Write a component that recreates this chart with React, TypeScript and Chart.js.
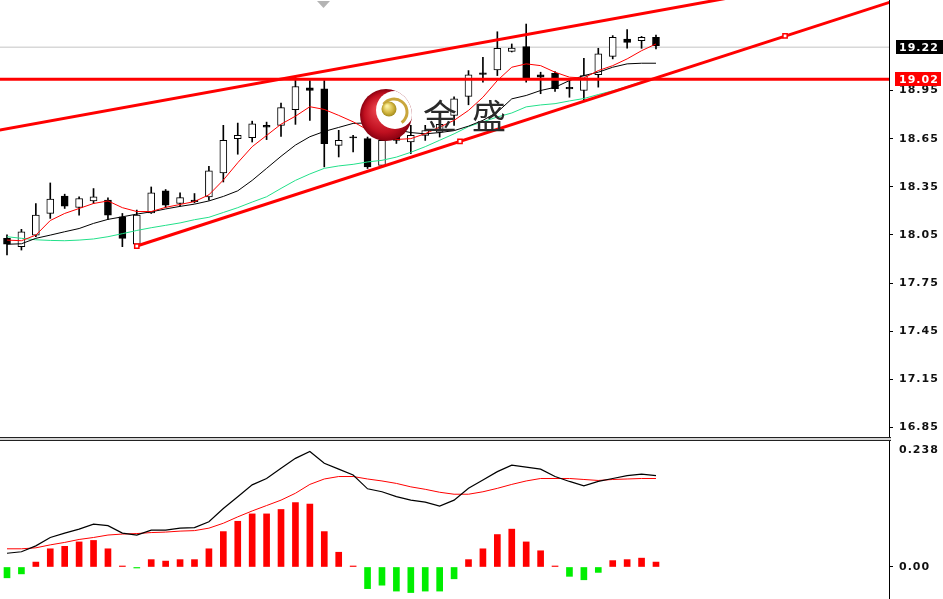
import React, { useEffect, useRef } from 'react';
import { Chart, registerables } from 'chart.js';

Chart.register(...registerables);

// ---- price candles (index 0..45) ----
const openPrices = [18.029, 17.977, 18.049, 18.184, 18.292, 18.221, 18.262, 18.267, 18.163, 17.992, 18.188, 18.325, 18.246, 18.258, 18.287, 18.436, 18.650, 18.656, 18.733, 18.733, 18.830, 18.967, 18.960, 18.608, 18.655, 18.650, 18.484, 18.691, 18.629, 18.670, 18.690, 18.795, 18.913, 19.060, 19.079, 19.194, 19.223, 19.047, 19.057, 18.970, 18.950, 19.048, 19.163, 19.271, 19.260, 19.281];
const highPrices = [18.050, 18.085, 18.246, 18.374, 18.304, 18.287, 18.339, 18.281, 18.184, 18.205, 18.349, 18.333, 18.312, 18.308, 18.478, 18.733, 18.747, 18.759, 18.753, 18.871, 19.037, 19.012, 19.012, 18.702, 18.670, 18.660, 18.670, 18.720, 18.733, 18.733, 18.780, 18.910, 19.074, 19.157, 19.316, 19.240, 19.364, 19.064, 19.068, 19.026, 19.150, 19.213, 19.292, 19.329, 19.287, 19.296];
const lowPrices = [17.925, 17.956, 18.039, 18.153, 18.215, 18.174, 18.246, 18.147, 17.977, 17.967, 18.184, 18.221, 18.230, 18.250, 18.267, 18.380, 18.553, 18.629, 18.644, 18.664, 18.739, 18.764, 18.474, 18.536, 18.567, 18.464, 18.478, 18.620, 18.557, 18.639, 18.660, 18.733, 18.861, 19.002, 19.043, 19.190, 19.002, 18.930, 18.944, 18.908, 18.882, 18.971, 19.147, 19.213, 19.213, 19.209];
const closePrices = [17.993, 18.070, 18.174, 18.273, 18.230, 18.277, 18.287, 18.174, 18.029, 18.174, 18.312, 18.236, 18.283, 18.267, 18.449, 18.639, 18.670, 18.743, 18.722, 18.843, 18.975, 18.950, 18.619, 18.639, 18.660, 18.474, 18.639, 18.639, 18.670, 18.701, 18.740, 18.898, 19.048, 19.050, 19.213, 19.215, 19.023, 19.033, 18.961, 18.960, 19.043, 19.178, 19.281, 19.250, 19.281, 19.230];

// ---- moving averages ----
const maRed = [18.018, 18.014, 18.049, 18.140, 18.184, 18.215, 18.246, 18.262, 18.220, 18.196, 18.196, 18.222, 18.240, 18.258, 18.300, 18.392, 18.500, 18.600, 18.670, 18.740, 18.790, 18.849, 18.832, 18.795, 18.755, 18.705, 18.670, 18.645, 18.650, 18.681, 18.722, 18.764, 18.826, 18.908, 19.012, 19.095, 19.116, 19.105, 19.064, 19.033, 19.028, 19.074, 19.105, 19.147, 19.198, 19.240];
const maBlack = [17.992, 17.995, 18.029, 18.049, 18.070, 18.090, 18.122, 18.147, 18.163, 18.180, 18.194, 18.212, 18.228, 18.242, 18.262, 18.290, 18.325, 18.390, 18.465, 18.540, 18.610, 18.662, 18.695, 18.720, 18.745, 18.748, 18.728, 18.705, 18.688, 18.680, 18.688, 18.700, 18.728, 18.764, 18.815, 18.898, 18.919, 18.950, 18.970, 19.012, 19.043, 19.064, 19.095, 19.116, 19.120, 19.120];
const maGreen = [18.039, 18.029, 18.020, 18.016, 18.014, 18.018, 18.025, 18.039, 18.058, 18.078, 18.095, 18.110, 18.125, 18.145, 18.160, 18.190, 18.220, 18.255, 18.288, 18.340, 18.390, 18.430, 18.465, 18.480, 18.490, 18.505, 18.515, 18.535, 18.565, 18.600, 18.640, 18.680, 18.725, 18.755, 18.785, 18.810, 18.848, 18.860, 18.868, 18.885, 18.900, 18.925, 18.948, 18.975, 19.005, 19.025];

// ---- MACD panel ----
const macdHist = [-0.022, -0.014, 0.010, 0.037, 0.042, 0.051, 0.054, 0.037, 0.002, -0.002, 0.015, 0.012, 0.015, 0.015, 0.037, 0.072, 0.093, 0.108, 0.108, 0.117, 0.131, 0.128, 0.072, 0.030, 0.002, -0.044, -0.037, -0.049, -0.052, -0.049, -0.049, -0.024, 0.015, 0.037, 0.066, 0.077, 0.051, 0.033, 0.002, -0.019, -0.026, -0.011, 0.013, 0.015, 0.018, 0.010];
const macdDif = [0.028, 0.031, 0.043, 0.060, 0.069, 0.077, 0.087, 0.084, 0.069, 0.065, 0.075, 0.075, 0.079, 0.080, 0.092, 0.119, 0.143, 0.167, 0.180, 0.201, 0.221, 0.235, 0.211, 0.199, 0.187, 0.159, 0.153, 0.143, 0.136, 0.132, 0.124, 0.136, 0.160, 0.177, 0.194, 0.207, 0.203, 0.199, 0.184, 0.174, 0.165, 0.174, 0.180, 0.186, 0.189, 0.186];
const macdDea = [0.037, 0.037, 0.039, 0.045, 0.050, 0.056, 0.060, 0.065, 0.067, 0.068, 0.070, 0.071, 0.073, 0.074, 0.079, 0.089, 0.102, 0.114, 0.125, 0.136, 0.150, 0.168, 0.179, 0.184, 0.184, 0.179, 0.175, 0.170, 0.163, 0.158, 0.152, 0.148, 0.148, 0.153, 0.160, 0.168, 0.175, 0.180, 0.180, 0.180, 0.178, 0.176, 0.178, 0.179, 0.180, 0.180];

// ---- axis ticks ----
const priceTicks = [16.85, 17.15, 17.45, 17.75, 18.05, 18.35, 18.65, 18.95];
const macdTicks = [0, 0.238];
const macdTickLabels = ['0.00', '0.238'];

// ---- drawn objects (bar index, price) ----
const bidPrice = 19.22;
const levelPrice = 19.02;
const upperChannel = [{ x: -1, y: 18.6956 }, { x: 56, y: 19.624 }];
const lowerChannel = [{ x: 9, y: 17.981 }, { x: 62, y: 19.523 }];
const channelAnchors = [{ x: 9, y: 17.981 }, { x: 31.41, y: 18.633 }, { x: 53.95, y: 19.29 }];

// ---- axis ranges ----
const X_MIN = -0.4854;
const X_MAX = 61.157;
const PRICE_MIN = 16.7911;
const PRICE_MAX = 19.5139;
const MACD_MIN = -0.0651;
const MACD_MAX = 0.2644;

const TICK_FONT = { family: 'DejaVu Sans', size: 11, weight: 'bold' as const };

function drawLogo(ctx: CanvasRenderingContext2D) {
  ctx.save();
  const cx = 386, cy = 115, r = 26;
  ctx.beginPath();
  ctx.arc(cx, cy, r, 0, Math.PI * 2);
  const g = ctx.createRadialGradient(cx - 8, cy - 6, 3, cx, cy, r);
  g.addColorStop(0, '#e8404a');
  g.addColorStop(0.7, '#c01020');
  g.addColorStop(1, '#8a0010');
  ctx.fillStyle = g;
  ctx.fill();
  ctx.save();
  ctx.beginPath();
  ctx.arc(cx, cy, r, 0, Math.PI * 2);
  ctx.clip();
  ctx.beginPath();
  ctx.arc(cx + 9, cy - 5, 19, 0, Math.PI * 2);
  ctx.fillStyle = '#ffffff';
  ctx.fill();
  ctx.restore();
  ctx.beginPath();
  ctx.arc(cx + 8, cy - 3, 13, -2.5, 0.95);
  ctx.strokeStyle = '#c9a63c';
  ctx.lineWidth = 3;
  ctx.stroke();
  const gb = ctx.createRadialGradient(cx + 1, cy - 9, 1, cx + 3, cy - 6, 8);
  gb.addColorStop(0, '#fbf0a0');
  gb.addColorStop(0.6, '#d2b640');
  gb.addColorStop(1, '#9c8418');
  ctx.beginPath();
  ctx.arc(cx + 3, cy - 6, 7.5, 0, Math.PI * 2);
  ctx.fillStyle = gb;
  ctx.fill();
  (ctx as any).letterSpacing = '0px';
  ctx.font = '34px "Noto Sans CJK SC"';
  ctx.fillStyle = '#2a2a2a';
  ctx.textAlign = 'center';
  ctx.textBaseline = 'middle';
  ctx.fillText('金', 440, 116);
  ctx.fillText('盛', 489, 116);
  ctx.restore();
}

const spacingPlugin = {
  id: 'spacing',
  beforeDraw(chart: any) { chart.ctx.letterSpacing = '1px'; },
  afterDraw(chart: any) { chart.ctx.letterSpacing = '0px'; },
};

const mainOverlay = {
  id: 'mainOverlay',
  afterDatasetsDraw(chart: any) {
    drawLogo(chart.ctx);
  },
  afterDraw(chart: any) {
    const ctx: CanvasRenderingContext2D = chart.ctx;
    const y = chart.scales.y;
    const right = chart.chartArea.right;
    ctx.save();
    (ctx as any).letterSpacing = '1px';
    ctx.font = 'bold 11px "DejaVu Sans"';
    ctx.textAlign = 'left';
    ctx.textBaseline = 'middle';
    const yb = y.getPixelForValue(bidPrice);
    ctx.fillStyle = '#000';
    ctx.fillRect(right + 7, Math.round(yb) - 7, 943 - right - 7, 14);
    ctx.fillStyle = '#fff';
    ctx.fillText(bidPrice.toFixed(2), right + 10, yb + 0.5);
    const yl = y.getPixelForValue(levelPrice);
    ctx.fillStyle = '#ff0000';
    ctx.fillRect(right + 6, Math.round(yl) - 7, 943 - right - 8, 14);
    ctx.fillStyle = '#fff';
    ctx.fillText(levelPrice.toFixed(2), right + 10, yl + 0.5);
    (ctx as any).letterSpacing = '0px';
    ctx.beginPath();
    ctx.moveTo(317, 1);
    ctx.lineTo(330, 1);
    ctx.lineTo(323.5, 8);
    ctx.closePath();
    ctx.fillStyle = '#b4b4b4';
    ctx.fill();
    ctx.restore();
  },
};

const macdOverlay = {
  id: 'macdOverlay',
  afterDraw(chart: any) {
    const ctx: CanvasRenderingContext2D = chart.ctx;
    const right = chart.chartArea.right;
    ctx.save();
    ctx.fillStyle = '#222';
    ctx.fillRect(0, 0, right + 2, 1);
    ctx.fillStyle = '#d4d4d4';
    ctx.fillRect(0, 1, right + 2, 2);
    ctx.fillStyle = '#222';
    ctx.fillRect(0, 3, right + 2, 1);
    ctx.restore();
  },
};

function fitRight(s: any) {
  s.width = 54;
  s.paddingTop = 0;
  s.paddingBottom = 0;
}

export default function App() {
  const mainRef = useRef<HTMLCanvasElement>(null);
  const macdRef = useRef<HTMLCanvasElement>(null);

  useEffect(() => {
    document.body.style.margin = '0';
    const idx = openPrices.map((_, i) => i);
    const isWhite = (i: number) => closePrices[i] - openPrices[i] >= 0.012;

    const lineDs = (data: any[], color: string, width: number, order: number) => ({
      type: 'line' as const,
      data,
      borderColor: color,
      borderWidth: width,
      pointRadius: 0,
      tension: 0,
      clip: 0,
      order,
    });

    const main = new Chart(mainRef.current as HTMLCanvasElement, {
      type: 'bar',
      data: {
        datasets: [
          {
            type: 'bar',
            data: idx.map((i) => ({ x: i, y: [lowPrices[i], highPrices[i]] })),
            backgroundColor: '#000',
            borderWidth: 0,
            barThickness: 1,
            grouped: false,
            order: 10,
          } as any,
          {
            type: 'bar',
            data: idx.map((i) => ({ x: i, y: [openPrices[i], closePrices[i]] })),
            backgroundColor: idx.map((i) => (isWhite(i) ? '#ffffff' : '#000000')),
            borderColor: '#000',
            borderWidth: 1,
            borderSkipped: false,
            barThickness: 7,
            minBarLength: 1,
            grouped: false,
            order: 9,
          } as any,
          lineDs([{ x: -1, y: bidPrice }, { x: 70, y: bidPrice }], '#c4c4c4', 1, 12),
          lineDs(idx.map((i) => ({ x: i, y: maGreen[i] })), '#22e08a', 1, 6),
          lineDs(idx.map((i) => ({ x: i, y: maBlack[i] })), '#000000', 1, 5),
          lineDs(idx.map((i) => ({ x: i, y: maRed[i] })), '#ff0000', 1, 4),
          lineDs([{ x: -1, y: levelPrice }, { x: 70, y: levelPrice }], '#ff0000', 3, 2),
          lineDs(upperChannel, '#ff0000', 3, 2),
          lineDs(lowerChannel, '#ff0000', 3, 2),
          {
            type: 'line',
            data: channelAnchors,
            showLine: false,
            pointStyle: 'rect',
            pointRadius: 3,
            pointBorderColor: '#ff0000',
            pointBackgroundColor: '#ffffff',
            pointBorderWidth: 1.5,
            clip: 0,
            order: 1,
          } as any,
        ],
      },
      options: {
        responsive: false,
        animation: false,
        events: [],
        layout: { padding: 0, autoPadding: false },
        plugins: { legend: { display: false }, tooltip: { enabled: false } },
        scales: {
          x: { type: 'linear', min: X_MIN, max: X_MAX, display: false, offset: false },
          y: {
            type: 'linear',
            position: 'right',
            min: PRICE_MIN,
            max: PRICE_MAX,
            afterFit: fitRight,
            afterBuildTicks: (s: any) => {
              s.ticks = priceTicks.map((v) => ({ value: v }));
            },
            ticks: {
              callback: (v: any) => Number(v).toFixed(2),
              font: TICK_FONT,
              color: '#111',
              padding: 6,
            },
            grid: { drawOnChartArea: false, drawTicks: true, tickLength: 4, color: '#000' },
            border: { display: true, color: '#000', width: 1 },
          },
        },
      } as any,
      plugins: [spacingPlugin, mainOverlay],
    });

    const macd = new Chart(macdRef.current as HTMLCanvasElement, {
      type: 'bar',
      data: {
        datasets: [
          {
            type: 'bar',
            data: idx.map((i) => ({ x: i, y: macdHist[i] })),
            backgroundColor: idx.map((i) => (macdHist[i] >= 0 ? '#ff0000' : '#00ee00')),
            borderWidth: 0,
            barThickness: 6,
            minBarLength: 1,
            grouped: false,
            order: 5,
          } as any,
          lineDs(idx.map((i) => ({ x: i, y: macdDea[i] })), '#ff0000', 1, 2),
          lineDs(idx.map((i) => ({ x: i, y: macdDif[i] })), '#000000', 1.2, 1),
        ],
      },
      options: {
        responsive: false,
        animation: false,
        events: [],
        layout: { padding: 0, autoPadding: false },
        plugins: { legend: { display: false }, tooltip: { enabled: false } },
        scales: {
          x: { type: 'linear', min: X_MIN, max: X_MAX, display: false, offset: false },
          y: {
            type: 'linear',
            position: 'right',
            min: MACD_MIN,
            max: MACD_MAX,
            afterFit: fitRight,
            afterBuildTicks: (s: any) => {
              s.ticks = macdTicks.map((v) => ({ value: v }));
            },
            ticks: {
              callback: (v: any) => {
                const k = macdTicks.indexOf(Number(v));
                return k >= 0 ? macdTickLabels[k] : '';
              },
              font: TICK_FONT,
              color: '#111',
              padding: 6,
            },
            grid: {
              drawOnChartArea: false,
              drawTicks: true,
              tickLength: 4,
              color: (c: any) => (c.tick && c.tick.value === 0 ? '#000' : 'rgba(0,0,0,0)'),
            },
            border: { display: true, color: '#000', width: 1 },
          },
        },
      } as any,
      plugins: [spacingPlugin, macdOverlay],
    });

    return () => {
      main.destroy();
      macd.destroy();
    };
  }, []);

  return (
    <div style={{ position: 'fixed', left: 0, top: 0, width: 943, height: 599, background: '#fff', overflow: 'hidden' }}>
      <canvas ref={mainRef} width={943} height={437} style={{ position: 'absolute', left: 0, top: 0 }} />
      <canvas ref={macdRef} width={943} height={162} style={{ position: 'absolute', left: 0, top: 437 }} />
    </div>
  );
}
